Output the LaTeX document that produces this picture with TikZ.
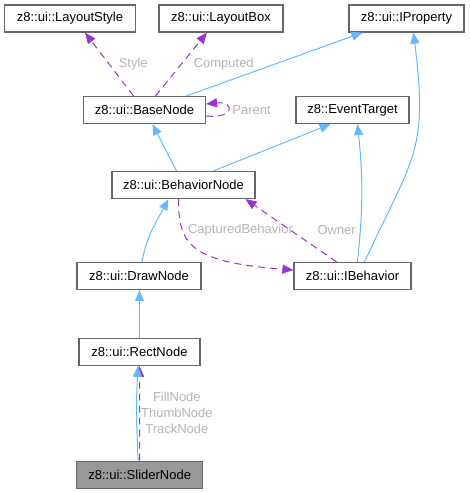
\documentclass[tikz,border=0pt]{standalone}
\usepackage{fontspec}
\setmainfont{Liberation Sans}
\usetikzlibrary{arrows.meta}
\definecolor{inhblue}{HTML}{63B8FF}
\definecolor{usepurple}{HTML}{9A32CD}
\definecolor{lblgray}{HTML}{B4B4B4}
\definecolor{boxgray}{HTML}{666666}
\definecolor{curgray}{HTML}{999999}
\begin{document}
\begin{tikzpicture}[
    x=1pt, y=1pt,
    >={Triangle[length=11pt,width=9pt]},
    font=\fontsize{13}{16}\selectfont,
    cls/.style={draw=boxgray, line width=1.2pt, fill=white, minimum height=27pt, inner sep=0pt},
    inh/.style={->, draw=inhblue, line width=1pt},
    usage/.style={->, draw=usepurple, line width=1pt, dash pattern=on 7pt off 5pt},
    lbl/.style={text=lblgray, inner sep=1pt}]
  \useasboundingbox (0,0) rectangle (469,-493);
  % classes
  \node[cls, minimum width=131pt] (lstyle) at (70,-18.5) {z8::ui::LayoutStyle};
  \node[cls, minimum width=124pt] (lbox) at (221,-18.5) {z8::ui::LayoutBox};
  \node[cls, minimum width=115pt] (iprop) at (406.5,-18.5) {z8::ui::IProperty};
  \node[cls, minimum width=122pt] (basen) at (144.5,-110) {z8::ui::BaseNode};
  \node[cls, minimum width=113pt] (evtgt) at (352.5,-110) {z8::EventTarget};
  \node[cls, minimum width=143pt] (bnode) at (183.5,-185) {z8::ui::BehaviorNode};
  \node[cls, minimum width=124pt] (dnode) at (139,-276) {z8::ui::DrawNode};
  \node[cls, minimum width=117pt] (ibhv) at (352.5,-276) {z8::ui::IBehavior};
  \node[cls, minimum width=121pt] (rnode) at (139.5,-351.7) {z8::ui::RectNode};
  \node[cls, minimum width=126pt, fill=curgray] (snode) at (139.7,-474.7) {z8::ui::SliderNode};
  % members
  \draw[usage] ([xshift=-11pt]basen.north) -- node[lbl, right=8pt] {Style} ([xshift=15pt]lstyle.south);
  \draw[usage] ([xshift=11pt]basen.north) -- node[lbl, right=11pt] {Computed} ([xshift=-14pt]lbox.south);
  \draw[usage] ([yshift=-6pt]basen.east) .. controls +(29,-3) and +(29,3) .. node[lbl, right=3pt] {Parent} ([yshift=6pt]basen.east);
  \draw[usage] ([xshift=-5pt]bnode.south) .. controls +(0,-45) and +(-104,8) .. ([yshift=6pt]ibhv.west);
  \node[lbl] (lcap) at (240.5,-230) {CapturedBehavior};
  \draw[usage] ([xshift=-16pt]ibhv.north) -- node[lbl, right=25pt] {Owner} ([xshift=62pt]bnode.south);
  \draw[usage] (snode.north) -- node[lbl, right=0pt, align=center] {FillNode\\ThumbNode\\TrackNode} (rnode.south);
  % bases
  \draw[inh] ([xshift=42pt]basen.north) -- ([xshift=-44pt]iprop.south);
  \draw[inh] ([xshift=-7pt]bnode.north) -- ([xshift=8pt]basen.south);
  \draw[inh] ([xshift=30pt]bnode.north) -- ([xshift=-22pt]evtgt.south);
  \draw[inh] ([xshift=5pt]ibhv.north) to[bend right=6] ([xshift=5pt]evtgt.south);
  \draw[inh] ([xshift=12pt]ibhv.north) to[out=65, in=-83, looseness=1.3] ([xshift=7pt]iprop.south);
  \draw[inh] ([xshift=3pt]dnode.north) to[out=80, in=-118] ([xshift=-15pt]bnode.south);
  \draw[inh] (rnode.north) -- (rnode.north |- dnode.south);
  \draw[inh] ([xshift=-1.5pt]snode.north) to[bend left=3] ([xshift=-1.5pt]rnode.south);
\end{tikzpicture}
\end{document}
